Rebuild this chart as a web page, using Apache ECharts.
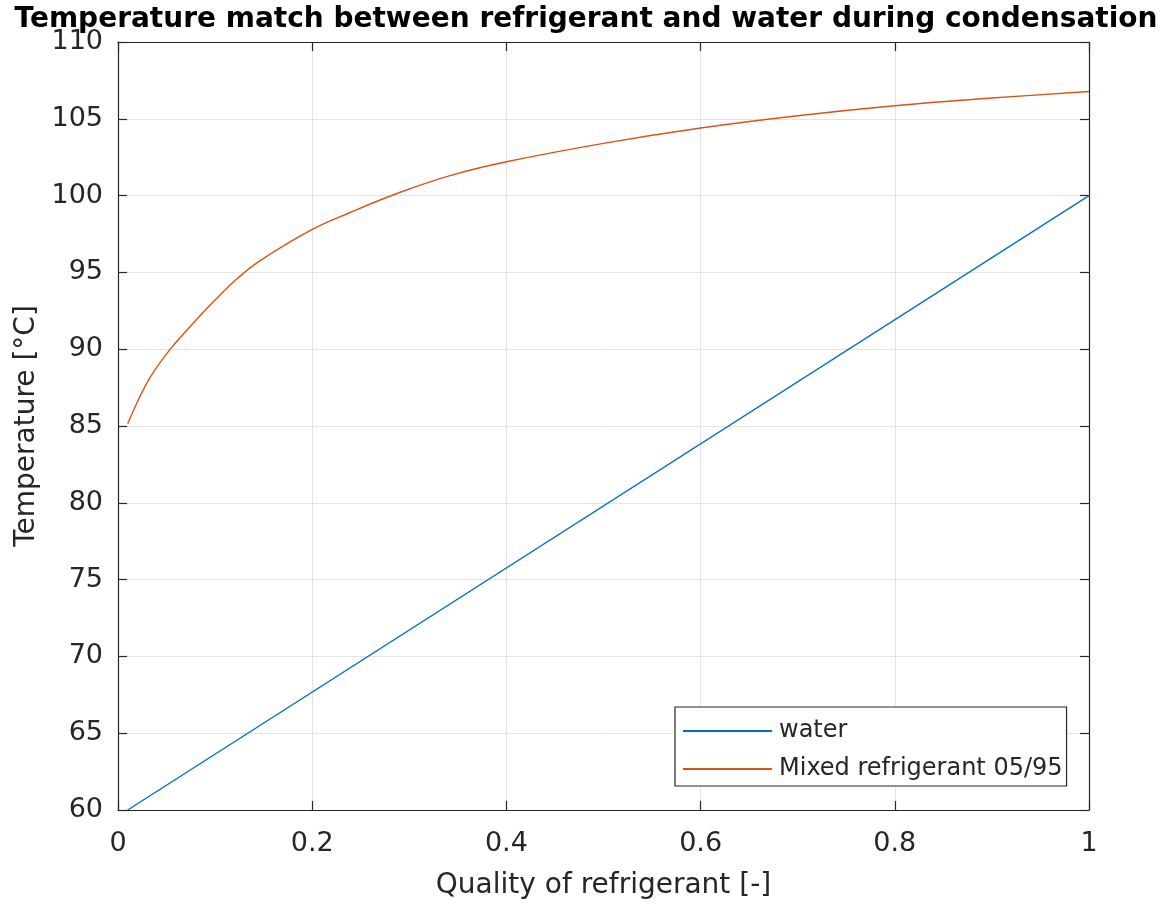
<!DOCTYPE html>
<html>
<head>
<meta charset="utf-8">
<script src="https://cdn.jsdelivr.net/npm/echarts@6/dist/echarts.min.js"></script>
<style>
  html, body { margin: 0; padding: 0; background: #fff; }
  #chart { width: 1172px; height: 909px; }
</style>
</head>
<body>
<div id="chart"></div>
<script>
// Refrigerant quality (x) and temperatures along the condenser
const waterQuality = [0.01, 1.0];
const waterTemp = [60, 100];

const refQuality = [0.01, 0.018, 0.028, 0.038, 0.055, 0.069, 0.084, 0.1, 0.122, 0.146, 0.2, 0.239, 0.29, 0.342, 0.4, 0.5, 0.6, 0.7, 0.8, 0.9, 1.0];
const refTemp = [85.15, 86.3, 87.6, 88.65, 90.1, 91.1, 92.15, 93.2, 94.55, 95.75, 97.8, 98.9, 100.2, 101.3, 102.2, 103.4, 104.4, 105.2, 105.85, 106.35, 106.78];

const seriesNames = ['water', 'Mixed refrigerant 05/95'];

const FONT = '"DejaVu Sans", "Liberation Sans", Arial, sans-serif';
const AXIS_COLOR = '#262626';
const GRID_COLOR = '#e3e3e3';

const pairs = (xs, ys) => xs.map((x, i) => [x, ys[i]]);

const xBase = {
  type: 'value', min: 0, max: 1, interval: 0.2,
  axisLine: { show: true, onZero: false, lineStyle: { color: AXIS_COLOR, width: 1.2 } },
  axisTick: { show: true, inside: true, length: 9, lineStyle: { color: AXIS_COLOR, width: 1.2 } },
};
const yBase = {
  type: 'value', min: 60, max: 110, interval: 5,
  axisLine: { show: true, onZero: false, lineStyle: { color: AXIS_COLOR, width: 1.2 } },
  axisTick: { show: true, inside: true, length: 9, lineStyle: { color: AXIS_COLOR, width: 1.2 } },
};

const chart = echarts.init(document.getElementById('chart'), null, { renderer: 'canvas' });
chart.setOption({
  backgroundColor: '#ffffff',
  animation: false,
  title: {
    text: 'Temperature match between refrigerant and water during condensation',
    left: 'center',
    top: 1,
    textStyle: { fontFamily: FONT, fontWeight: 'bold', fontSize: 28, color: '#000' }
  },
  grid: { left: 118, right: 83, top: 42, bottom: 99, containLabel: false },
  legend: {
    data: seriesNames,
    orient: 'vertical',
    left: 675,
    top: 707,
    backgroundColor: '#fff',
    borderColor: AXIS_COLOR,
    borderWidth: 1.2,
    borderRadius: 0,
    padding: [12, 4, 5, 7],
    itemWidth: 89,
    itemHeight: 22,
    itemGap: 14,
    itemStyle: { opacity: 0 },
    textStyle: { fontFamily: FONT, fontSize: 24, color: AXIS_COLOR, padding: [0, 0, 0, 2] }
  },
  xAxis: [
    Object.assign({}, xBase, {
      position: 'bottom',
      name: 'Quality of refrigerant [-]',
      nameLocation: 'middle',
      nameGap: 62,
      nameTextStyle: { fontFamily: FONT, fontSize: 28, color: AXIS_COLOR },
      axisLabel: {
        fontFamily: FONT, fontSize: 27, color: AXIS_COLOR, margin: 20,
        formatter: v => (v === 0 || v === 1) ? String(v) : v.toFixed(1)
      },
      splitLine: { show: true, lineStyle: { color: GRID_COLOR, width: 1 } }
    }),
    Object.assign({}, xBase, {
      position: 'top',
      axisLabel: { show: false },
      splitLine: { show: false }
    })
  ],
  yAxis: [
    Object.assign({}, yBase, {
      position: 'left',
      name: 'Temperature [°C]',
      nameLocation: 'middle',
      nameGap: 74,
      nameRotate: 90,
      nameTextStyle: { fontFamily: FONT, fontSize: 28, color: AXIS_COLOR },
      axisLabel: { fontFamily: FONT, fontSize: 27, color: AXIS_COLOR, margin: 15 },
      splitLine: { show: true, lineStyle: { color: GRID_COLOR, width: 1 } }
    }),
    Object.assign({}, yBase, {
      position: 'right',
      axisLabel: { show: false },
      splitLine: { show: false }
    })
  ],
  series: [
    {
      name: seriesNames[0],
      type: 'line',
      data: pairs(waterQuality, waterTemp),
      symbol: 'none',
      lineStyle: { color: '#0072BD', width: 1.4 },
      itemStyle: { color: '#0072BD' }
    },
    {
      name: seriesNames[1],
      type: 'line',
      data: pairs(refQuality, refTemp),
      symbol: 'none',
      smooth: 0.4,
      lineStyle: { color: '#D95319', width: 1.4 },
      itemStyle: { color: '#D95319' }
    }
  ]
});
</script>
</body>
</html>
